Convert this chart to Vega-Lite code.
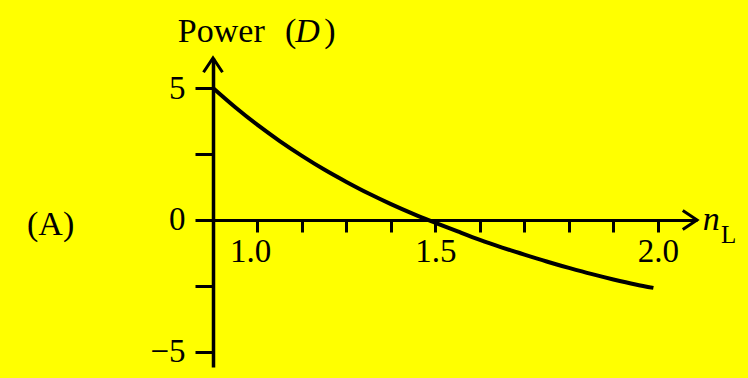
{
  "$schema": "https://vega.github.io/schema/vega-lite/v6.json",
  "width": 484,
  "height": 309,
  "autosize": {"type": "none"},
  "padding": {"left": 213, "top": 58, "right": 51, "bottom": 11},
  "background": "#ffff00",
  "config": {
    "view": {"stroke": null},
    "font": "Liberation Serif",
    "axis": {"grid": false, "title": null, "domainColor": "#000000", "tickColor": "#000000", "labelColor": "#000000", "labelFont": "Liberation Serif"}
  },
  "datasets": {
    "power": [
      {"n": 1.0, "P": 5.0},
      {"n": 1.05, "P": 4.27},
      {"n": 1.1, "P": 3.6},
      {"n": 1.15, "P": 2.99},
      {"n": 1.2, "P": 2.43},
      {"n": 1.25, "P": 1.91},
      {"n": 1.3, "P": 1.44},
      {"n": 1.35, "P": 1.0},
      {"n": 1.4, "P": 0.6},
      {"n": 1.45, "P": 0.23},
      {"n": 1.5, "P": -0.11},
      {"n": 1.55, "P": -0.44},
      {"n": 1.6, "P": -0.76},
      {"n": 1.65, "P": -1.05},
      {"n": 1.7, "P": -1.32},
      {"n": 1.75, "P": -1.58},
      {"n": 1.8, "P": -1.82},
      {"n": 1.85, "P": -2.05},
      {"n": 1.9, "P": -2.26},
      {"n": 1.95, "P": -2.45},
      {"n": 1.99, "P": -2.58}
    ],
    "yTip": [{"n": 1.0, "P": 6.14}],
    "xTip": [{"n": 2.088, "P": 0}],
    "upright": [
      {"n": 0.921, "P": 6.75, "t": "Power"},
      {"n": 1.162, "P": 6.75, "t": "("},
      {"n": 1.25, "P": 6.75, "t": ")"},
      {"n": 0.582, "P": -0.56, "t": "(A)"}
    ],
    "italic": [
      {"n": 1.185, "P": 6.75, "t": "D"},
      {"n": 2.101, "P": -0.37, "t": "n"}
    ],
    "sub": [{"n": 2.142, "P": -0.86, "t": "L"}]
  },
  "layer": [
    {
      "data": {"name": "power"},
      "mark": {"type": "line", "color": "#000000", "strokeWidth": 4, "interpolate": "monotone"},
      "encoding": {
        "x": {
          "field": "n", "type": "quantitative",
          "scale": {"domain": [1, 2.088], "nice": false, "zero": false},
          "axis": {
            "orient": "bottom", "offset": -147,
            "values": [1, 1.1, 1.2, 1.3, 1.4, 1.5, 1.6, 1.7, 1.8, 1.9, 2],
            "labelExpr": "datum.value == 1 || datum.value == 1.5 || datum.value == 2 ? format(datum.value, '.1f') : ''",
            "domainWidth": 3, "tickWidth": 3, "tickSize": 12,
            "labelFontSize": 33, "labelPadding": 3,
            "labelFlush": false, "labelOverlap": false,
            "labelOffset": {"condition": {"test": "datum.value == 1", "value": 37}, "value": 0}
          }
        },
        "y": {
          "field": "P", "type": "quantitative",
          "scale": {"domain": [-5.58, 6.14], "nice": false, "zero": false},
          "axis": {
            "orient": "left",
            "values": [-5, -2.5, 0, 2.5, 5],
            "labelExpr": "datum.value == 5 ? '5' : datum.value == 0 ? '0' : datum.value == -5 ? '−5' : ''",
            "domainWidth": 3.5, "tickWidth": 3, "tickSize": 18,
            "labelFontSize": 33, "labelPadding": 10, "labelOverlap": false, "labelFlush": false
          }
        }
      }
    },
    {
      "data": {"name": "yTip"},
      "mark": {"type": "point", "shape": "M-1,1.5L0,0L1,1.5", "filled": false, "stroke": "#000000", "strokeWidth": 3, "size": 361, "opacity": 1},
      "encoding": {"x": {"field": "n", "type": "quantitative"}, "y": {"field": "P", "type": "quantitative"}}
    },
    {
      "data": {"name": "xTip"},
      "mark": {"type": "point", "shape": "M-1,1.5L0,0L1,1.5", "angle": 90, "filled": false, "stroke": "#000000", "strokeWidth": 3, "size": 361, "opacity": 1},
      "encoding": {"x": {"field": "n", "type": "quantitative"}, "y": {"field": "P", "type": "quantitative"}}
    },
    {
      "data": {"name": "upright"},
      "mark": {"type": "text", "font": "Liberation Serif", "fontSize": 34, "align": "left", "baseline": "alphabetic", "color": "#000000"},
      "encoding": {"x": {"field": "n", "type": "quantitative"}, "y": {"field": "P", "type": "quantitative"}, "text": {"field": "t"}}
    },
    {
      "data": {"name": "italic"},
      "mark": {"type": "text", "font": "Liberation Serif", "fontSize": 34, "fontStyle": "italic", "align": "left", "baseline": "alphabetic", "color": "#000000"},
      "encoding": {"x": {"field": "n", "type": "quantitative"}, "y": {"field": "P", "type": "quantitative"}, "text": {"field": "t"}}
    },
    {
      "data": {"name": "sub"},
      "mark": {"type": "text", "font": "Liberation Serif", "fontSize": 25, "align": "left", "baseline": "alphabetic", "color": "#000000"},
      "encoding": {"x": {"field": "n", "type": "quantitative"}, "y": {"field": "P", "type": "quantitative"}, "text": {"field": "t"}}
    }
  ]
}
